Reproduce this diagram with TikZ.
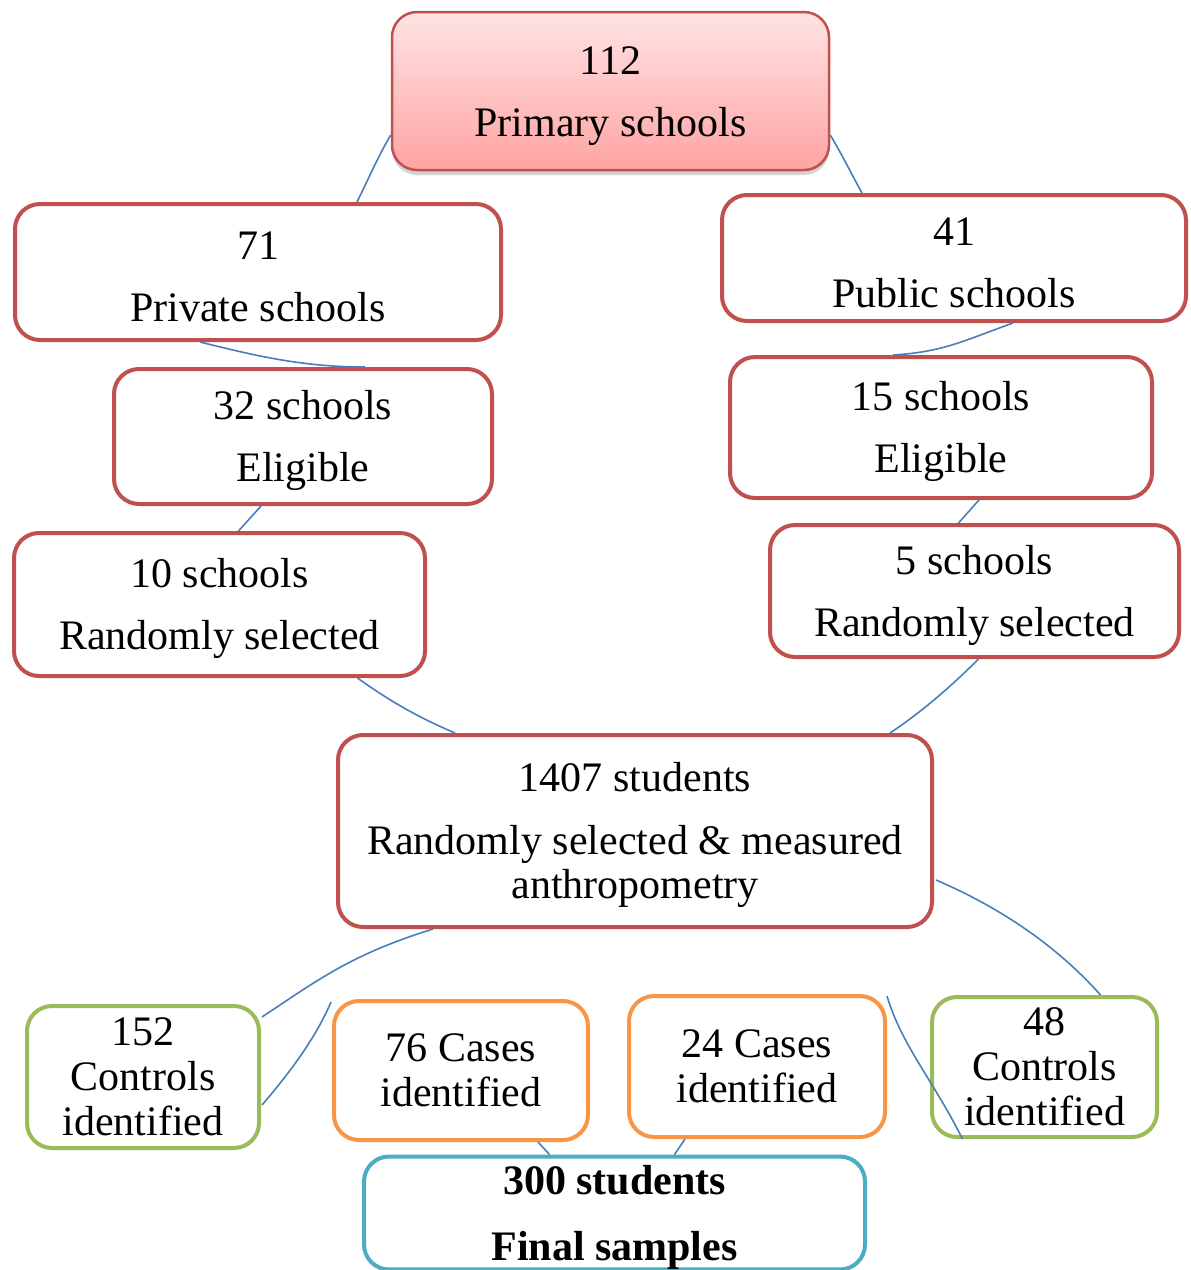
\documentclass[tikz,border=0pt]{standalone}
\usepackage{fontspec}
\setmainfont{Liberation Serif}
\usetikzlibrary{calc,shadows}
\definecolor{redb}{HTML}{C0504D}
\definecolor{greenb}{HTML}{9BBB59}
\definecolor{orangeb}{HTML}{F79646}
\definecolor{cyanb}{HTML}{4BACC6}
\definecolor{lineb}{HTML}{4A7EBB}
\definecolor{pinktop}{HTML}{FFE3E3}
\definecolor{pinkbot}{HTML}{FFA4A4}
\newcommand\lowstrut{\rule{0pt}{38pt}}
\begin{document}
\begin{tikzpicture}[x=1pt,y=-1pt,
  basebox/.style={rounded corners=25pt,fill=white,align=center,inner sep=0pt},
  box/.style={basebox,draw=redb,line width=4pt,font=\fontsize{42}{62}\selectfont},
  topbox/.style={basebox,draw=redb,line width=2.5pt,top color=pinktop,bottom color=pinkbot,
     drop shadow={shadow xshift=0pt,shadow yshift=-5pt,opacity=0.35},font=\fontsize{42}{62}\selectfont},
  lowbox/.style={basebox,line width=4pt,font=\fontsize{42}{45}\selectfont},
  ctrlbox/.style={lowbox,draw=greenb},
  casebox/.style={lowbox,draw=orangeb},
  finalbox/.style={basebox,draw=cyanb,line width=4pt,font=\fontsize{42}{66}\selectfont\bfseries},
  conn/.style={draw=lineb,line width=1.6pt}]
\useasboundingbox (0,0) rectangle (1191,1270);

\node[topbox,minimum width=437pt,minimum height=158pt] (top) at (610.5,91) {\lowstrut 112\\Primary schools};
\node[box,minimum width=486pt,minimum height=136pt] (priv) at (258,272) {\lowstrut 71\\Private schools};
\node[box,minimum width=464pt,minimum height=126pt] (pub) at (954,258) {\lowstrut 41\\Public schools};
\node[box,minimum width=378pt,minimum height=135pt] (e32) at (303,436.5) {\lowstrut 32 schools\\Eligible};
\node[box,minimum width=422pt,minimum height=141pt] (e15) at (941,427.5) {\lowstrut 15 schools\\Eligible};
\node[box,minimum width=411pt,minimum height=143pt] (e10) at (219.5,604.5) {\lowstrut 10 schools\\Randomly selected};
\node[box,minimum width=409pt,minimum height=132pt] (e5) at (974.5,591) {\lowstrut 5 schools\\Randomly selected};
\node[box,minimum width=594pt,minimum height=192pt,font=\fontsize{42}{44}\selectfont] (s1407) at (635,831)
  {\lowstrut 1407 students\\[19pt]Randomly selected \& measured\\anthropometry};
\node[ctrlbox,minimum width=232pt,minimum height=142pt] (c152) at (143,1077) {152\\Controls\\identified};
\node[casebox,minimum width=254pt,minimum height=139pt] (c76) at (461,1070.5) {76 Cases\\identified};
\node[casebox,minimum width=256pt,minimum height=141pt] (c24) at (757,1066.5) {24 Cases\\identified};
\node[ctrlbox,minimum width=225pt,minimum height=140pt] (c48) at (1044.5,1067) {48\\Controls\\identified};
\node[finalbox,minimum width=501pt,minimum height=109pt] (f300) at (614.5,1213) {\lowstrut 300 students\\Final samples};

\coordinate (free1) at (331,1002);
\coordinate (free2) at (887,996);

\draw[conn] ($(top.west)+(0,44)$) .. controls +(-12,20) and +(10,-20) .. ($(priv.north)+(99,0)$);
\draw[conn] ($(top.east)+(0,44)$) .. controls +(12,20) and +(-10,-18) .. ($(pub.north)+(-92,0)$);
\draw[conn] ($(priv.south)+(-58,0)$) .. controls +(60,15) and +(-60,0) .. ($(e32.north)+(62,0)$);
\draw[conn] ($(pub.south)+(59,0)$) .. controls +(-50,18) and +(50,-3) .. ($(e15.north)+(-48,0)$);
\draw[conn] ($(e32.south)+(-42,0)$) -- ($(e10.north)+(19,0)$);
\draw[conn] ($(e15.south)+(38,0)$) -- ($(e5.north)+(-16,0)$);
\draw[conn] ($(e10.south)+(138,0)$) .. controls +(35,25) and +(-35,-15) .. ($(s1407.north)+(-180,0)$);
\draw[conn] ($(e5.south)+(4,0)$) .. controls +(-30,30) and +(30,-20) .. ($(s1407.north)+(255,0)$);
\draw[conn] ($(s1407.south)+(-202,0)$) .. controls +(-80,25) and +(60,-40) .. ($(c152.east)+(1,-60)$);
\draw[conn] ($(s1407.east)+(2,49)$) .. controls +(70,30) and +(-40,-45) .. ($(c48.north)+(56,0)$);
\draw[conn] ($(c152.east)+(1,28)$) .. controls +(30,-35) and +(-15,35) .. (free1);
\draw[conn] (free2) .. controls +(15,50) and +(-30,-60) .. ($(c48.south)+(-82,0)$);
\draw[conn] ($(c76.south)+(77,0)$) -- ($(f300.north)+(-65,0)$);
\draw[conn] ($(c24.south)+(-72,0)$) -- ($(f300.north)+(60,0)$);
\end{tikzpicture}
\end{document}
